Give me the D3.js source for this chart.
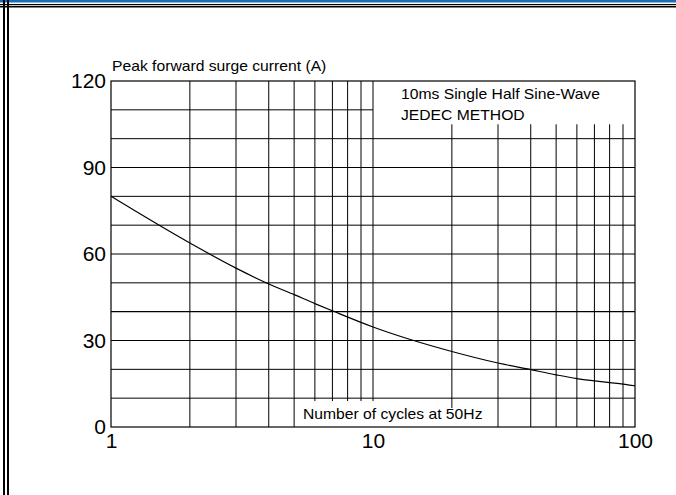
<!DOCTYPE html>
<html>
<head>
<meta charset="utf-8">
<script src="https://cdn.jsdelivr.net/npm/d3@7"></script>
<style>
  body { margin: 0; background: #fff; }
  text { font-family: "Liberation Sans", Arial, sans-serif; fill: #000; }
</style>
</head>
<body>
<script>
// surge curve
const cycles = [1, 2, 3, 4, 5, 6, 7, 10, 20, 30, 40, 50, 60, 70, 80, 90, 100];
const current = [80, 63.8, 55.1, 49.6, 45.9, 42.8, 40.3, 34.7, 26.2, 22.2, 19.9, 18.1, 16.8, 16.0, 15.4, 14.9, 14.3];

const yTicks = [0, 30, 60, 90, 120];
const xTicks = [1, 10, 100];

// grid lines, with the span (in data units) each one covers
const hGrid = [10, 20, 30, 40, 50, 60, 70, 80, 90, 100, 110];
const hGridTo = [100, 100, 100, 100, 100, 100, 100, 100, 100, 100, 10];
const vGrid = [2, 3, 4, 5, 6, 7, 8, 9, 10, 20, 30, 40, 50, 60, 70, 80, 90];
const vGridFrom = [0, 0, 0, 0, 9, 9, 9, 9, 9, 6.6, 0, 0, 0, 0, 0, 0, 0];
const vGridTo = [120, 120, 120, 120, 120, 120, 120, 120, 120, 105, 105, 105, 105, 105, 105, 105, 105];

const W = 676, H = 495;

const svg = d3.select("body").append("svg")
  .attr("width", W)
  .attr("height", H);

// page frame
svg.append("rect").attr("x", 0).attr("y", 0).attr("width", W).attr("height", 2.5).attr("fill", "#1b6cb5");
svg.append("rect").attr("x", 0).attr("y", 4).attr("width", W).attr("height", 1.2).attr("fill", "#000");
svg.append("rect").attr("x", 0).attr("y", 6).attr("width", W).attr("height", 1.5).attr("fill", "#000");
svg.append("rect").attr("x", 3).attr("y", 0).attr("width", 2).attr("height", H).attr("fill", "#000");
svg.append("rect").attr("x", 7).attr("y", 0).attr("width", 2).attr("height", H).attr("fill", "#000");

const x = d3.scaleLog().domain([1, 100]).range([111, 635]);
const y = d3.scaleLinear().domain([0, 120]).range([427, 81]);

const grid = svg.append("g").attr("stroke", "#000").attr("fill", "none");

grid.selectAll(".h")
  .data(hGrid)
  .join("line")
  .attr("x1", x(1))
  .attr("x2", (d, i) => x(hGridTo[i]))
  .attr("y1", (d) => y(d))
  .attr("y2", (d) => y(d))
  .attr("stroke-width", (d) => (d === 40 ? 1.4 : 1));

grid.selectAll(".v")
  .data(vGrid)
  .join("line")
  .attr("x1", (d) => x(d))
  .attr("x2", (d) => x(d))
  .attr("y1", (d, i) => y(vGridFrom[i]))
  .attr("y2", (d, i) => y(vGridTo[i]))
  .attr("stroke-width", 1);

// plot border
svg.append("rect")
  .attr("x", x(1))
  .attr("y", y(120))
  .attr("width", x(100) - x(1))
  .attr("height", y(0) - y(120))
  .attr("fill", "none")
  .attr("stroke", "#000")
  .attr("stroke-width", 1.2);

// surge curve
const line = d3.line()
  .x((d) => x(d[0]))
  .y((d) => y(d[1]))
  .curve(d3.curveMonotoneX);

svg.append("path")
  .datum(cycles.map((c, i) => [c, current[i]]))
  .attr("d", line)
  .attr("fill", "none")
  .attr("stroke", "#000")
  .attr("stroke-width", 1.2);

// axes, labels only
const yAxis = svg.append("g")
  .attr("transform", `translate(${x(1)},0)`)
  .call(d3.axisLeft(y).tickValues(yTicks).tickSize(0).tickPadding(5));
yAxis.select(".domain").remove();
yAxis.selectAll("text")
  .style("font-size", "21px")
  .style("font-family", "'Liberation Sans', Arial, sans-serif");

const xAxis = svg.append("g")
  .attr("transform", `translate(0,${y(0)})`)
  .call(d3.axisBottom(x).tickValues(xTicks).tickFormat(d3.format("d")).tickSize(0).tickPadding(6));
xAxis.select(".domain").remove();
xAxis.selectAll("text")
  .style("font-size", "21px")
  .style("font-family", "'Liberation Sans', Arial, sans-serif");

// titles: the source font is a little wider than Arial
function label(tx, ty, str) {
  svg.append("text")
    .attr("transform", `translate(${tx},${ty}) scale(1.12,1)`)
    .style("font-size", "14px")
    .text(str);
}

label(112, 71, "Peak forward surge current (A)");
label(303, 419, "Number of cycles at 50Hz");
label(401, 99, "10ms Single Half Sine-Wave");
label(401, 120, "JEDEC METHOD");
</script>
</body>
</html>
